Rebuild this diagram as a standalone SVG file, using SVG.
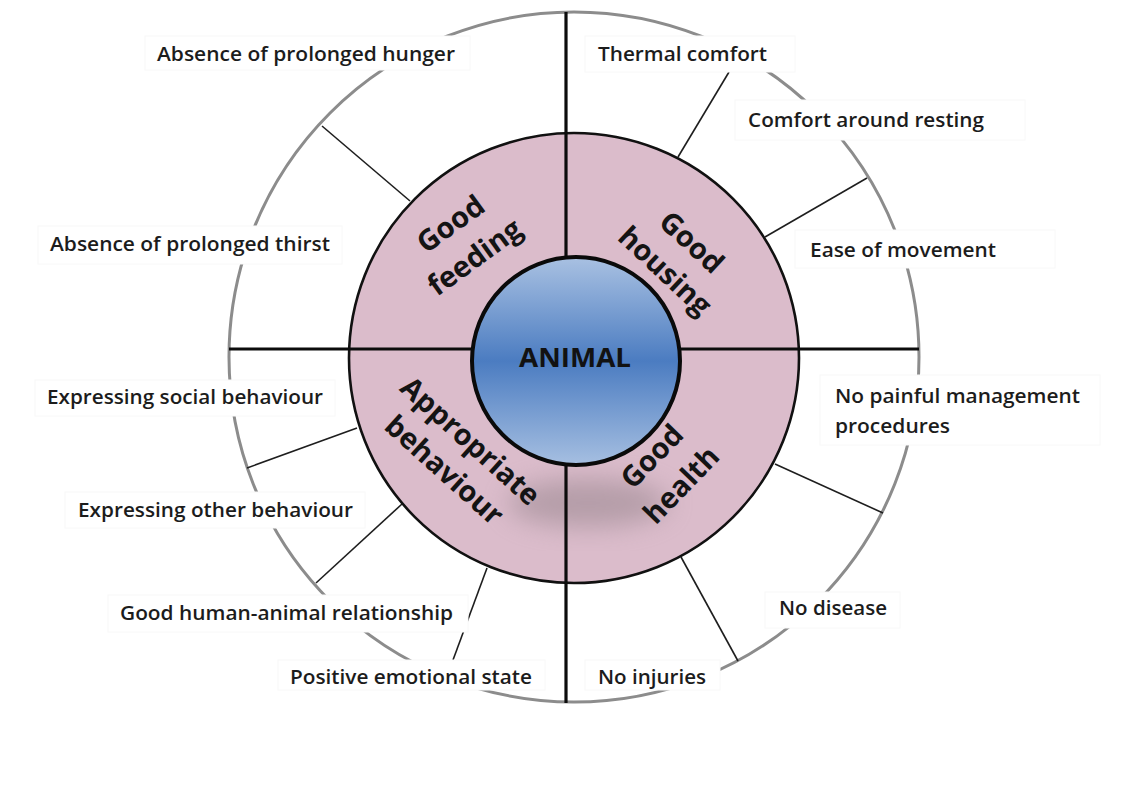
<svg xmlns="http://www.w3.org/2000/svg" width="1136" height="805" viewBox="0 0 1136 805">
<defs>
<linearGradient id="blueG" x1="0" y1="0" x2="0" y2="1">
<stop offset="0" stop-color="#a9c1e2"/>
<stop offset="0.5" stop-color="#4b7cc1"/>
<stop offset="1" stop-color="#a6bfe1"/>
</linearGradient>
<filter id="blur" x="-50%" y="-50%" width="200%" height="200%"><feGaussianBlur stdDeviation="13"/></filter>
<style>
.lbl{font-family:"Open Sans","Liberation Sans",sans-serif;font-weight:600;font-size:19px;fill:#1c1c1c}
.ring{font-family:"Open Sans","Liberation Sans",sans-serif;font-weight:700;font-size:29px;fill:#141414;text-anchor:middle}
.box{fill:#ffffff;stroke:#f8f8f8;stroke-width:1}
.spoke{stroke:#1e1e1e;stroke-width:1.6;fill:none}
.axis{stroke:#0c0c0c;stroke-width:3.2;fill:none}
</style>
</defs>
<rect width="1136" height="805" fill="#ffffff"/>
<g id="outer-ring">
<circle cx="574" cy="357" r="345" fill="none" stroke="#8c8c8c" stroke-width="3"/>
</g>
<g id="connectors">
<line class="spoke" x1="410" y1="201" x2="322" y2="126"/>
<line class="spoke" x1="678" y1="157" x2="729" y2="72"/>
<line class="spoke" x1="765" y1="237" x2="867" y2="178"/>
<line class="spoke" x1="775" y1="464" x2="883" y2="513"/>
<line class="spoke" x1="681" y1="557" x2="738" y2="661"/>
<line class="spoke" x1="357" y1="428" x2="247" y2="468"/>
<line class="spoke" x1="402" y1="504" x2="316" y2="583"/>
<line class="spoke" x1="487" y1="568" x2="453" y2="660"/>
</g>
<g id="labels">
<g id="l-hunger"><rect class="box" x="145" y="36" width="325" height="34"/><text class="lbl" x="306" y="61" text-anchor="middle" textLength="298" lengthAdjust="spacingAndGlyphs">Absence of prolonged hunger</text></g>
<g id="l-thermal"><rect class="box" x="585" y="36" width="210" height="36"/><text class="lbl" x="682.5" y="61" text-anchor="middle" textLength="169" lengthAdjust="spacingAndGlyphs">Thermal comfort</text></g>
<g id="l-resting"><rect class="box" x="735" y="100" width="290" height="40"/><text class="lbl" x="866" y="127" text-anchor="middle" textLength="236" lengthAdjust="spacingAndGlyphs">Comfort around resting</text></g>
<g id="l-thirst"><rect class="box" x="38" y="226" width="304" height="38"/><text class="lbl" x="190" y="251" text-anchor="middle" textLength="280" lengthAdjust="spacingAndGlyphs">Absence of prolonged thirst</text></g>
<g id="l-movement"><rect class="box" x="795" y="230" width="260" height="38"/><text class="lbl" x="903" y="257" text-anchor="middle" textLength="186" lengthAdjust="spacingAndGlyphs">Ease of movement</text></g>
<g id="l-social"><rect class="box" x="35" y="380" width="300" height="36"/><text class="lbl" x="185" y="404" text-anchor="middle" textLength="276" lengthAdjust="spacingAndGlyphs">Expressing social behaviour</text></g>
<g id="l-painful"><rect class="box" x="820" y="375" width="280" height="70"/><text class="lbl" x="835" y="403" textLength="245" lengthAdjust="spacingAndGlyphs">No painful management</text><text class="lbl" x="835" y="433" textLength="115" lengthAdjust="spacingAndGlyphs">procedures</text></g>
<g id="l-other"><rect class="box" x="65" y="492" width="300" height="36"/><text class="lbl" x="215.5" y="517" text-anchor="middle" textLength="275" lengthAdjust="spacingAndGlyphs">Expressing other behaviour</text></g>
<g id="l-disease"><rect class="box" x="765" y="592" width="135" height="36"/><text class="lbl" x="833" y="615" text-anchor="middle" textLength="108" lengthAdjust="spacingAndGlyphs">No disease</text></g>
<g id="l-human"><rect class="box" x="108" y="595" width="360" height="37"/><text class="lbl" x="286.5" y="620" text-anchor="middle" textLength="333" lengthAdjust="spacingAndGlyphs">Good human-animal relationship</text></g>
<g id="l-positive"><rect class="box" x="278" y="660" width="267" height="30"/><text class="lbl" x="411" y="684" text-anchor="middle" textLength="242" lengthAdjust="spacingAndGlyphs">Positive emotional state</text></g>
<g id="l-injuries"><rect class="box" x="585" y="660" width="135" height="30"/><text class="lbl" x="652" y="684" text-anchor="middle" textLength="108" lengthAdjust="spacingAndGlyphs">No injuries</text></g>
</g>
<g id="principles">
<circle cx="574" cy="358" r="225" fill="#dbbccb" stroke="#111" stroke-width="2.6"/>
<ellipse cx="588" cy="503" rx="80" ry="24" fill="#8f7f86" opacity="0.5" filter="url(#blur)"/>
</g>
<g id="axes">
<line class="axis" x1="566" y1="12" x2="566" y2="703"/>
<line class="axis" x1="229" y1="349" x2="919" y2="349"/>
</g>
<g id="animal">
<circle cx="576" cy="361" r="104" fill="url(#blueG)" stroke="#0a0a0a" stroke-width="4"/>
<text x="575" y="367" font-family="'Open Sans','Liberation Sans',sans-serif" font-weight="700" font-size="26" fill="#121212" text-anchor="middle" textLength="112" lengthAdjust="spacingAndGlyphs">ANIMAL</text>
</g>
<g id="good-feeding" transform="translate(463,241) rotate(-36)">
<text class="ring" x="0" y="-11">Good</text>
<text class="ring" x="0" y="30">feeding</text>
</g>
<g id="good-housing" transform="translate(678,257) rotate(43)">
<text class="ring" x="0" y="-10">Good</text>
<text class="ring" x="0" y="29">housing</text>
</g>
<g id="appropriate-behaviour" transform="translate(457,456) rotate(42)">
<text class="ring" x="0" y="-10">Appropriate</text>
<text class="ring" x="0" y="29">behaviour</text>
</g>
<g id="good-health" transform="translate(667,471) rotate(-46)">
<text class="ring" x="0" y="-11">Good</text>
<text class="ring" x="0" y="30">health</text>
</g>
</svg>
